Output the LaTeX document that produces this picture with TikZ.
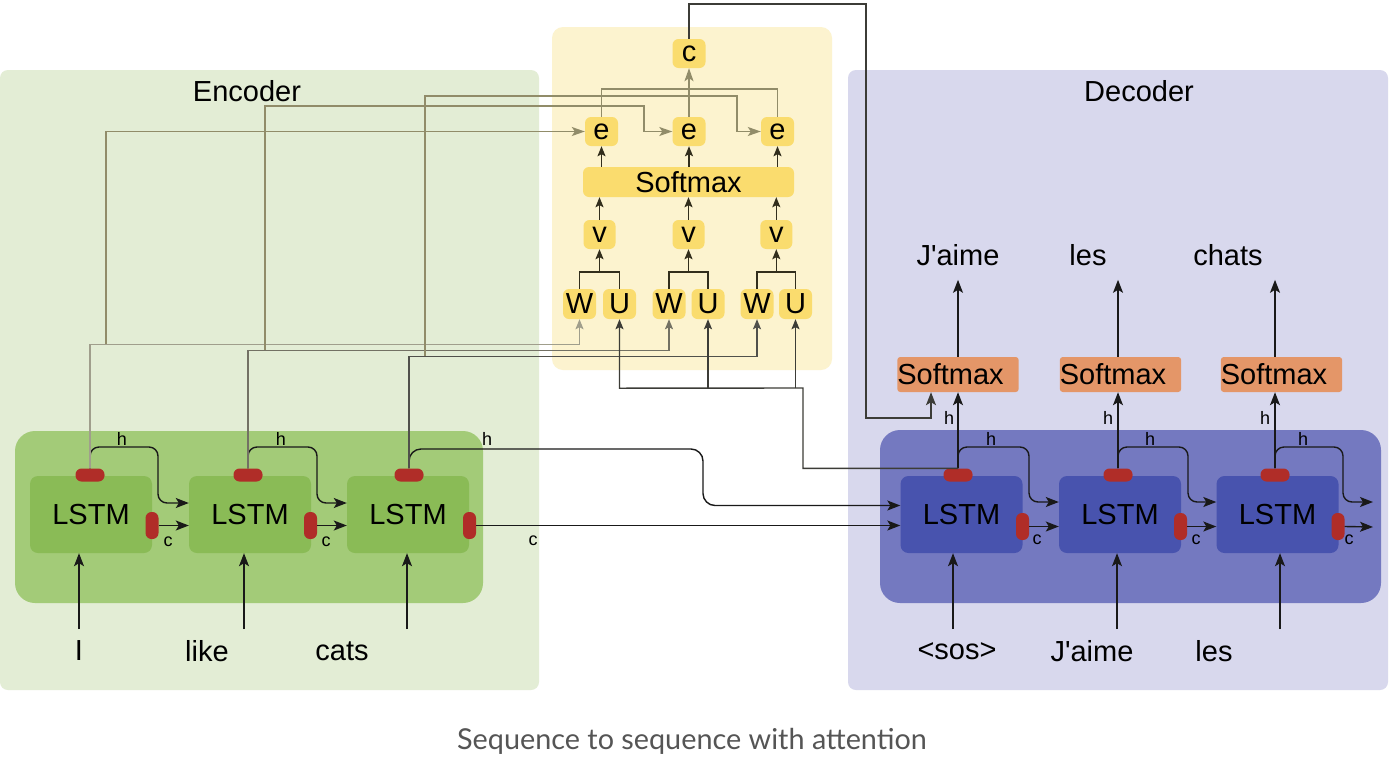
\documentclass[tikz,border=0pt]{standalone}
\usepackage{fontspec}
\setmainfont{Liberation Sans}[Ligatures=TeXOff]
\newfontfamily\capfont{Lato}
\usetikzlibrary{arrows.meta,calc}

\definecolor{encbgc}{RGB}{227,237,213}
\definecolor{encoutc}{RGB}{163,203,120}
\definecolor{enclstmc}{RGB}{138,187,86}
\definecolor{attbgc}{RGB}{252,243,207}
\definecolor{yelc}{RGB}{250,220,110}
\definecolor{decbgc}{RGB}{216,216,237}
\definecolor{decoutc}{RGB}{116,121,192}
\definecolor{declstmc}{RGB}{72,83,174}
\definecolor{orc}{RGB}{228,150,104}
\definecolor{portc}{RGB}{176,45,40}
\definecolor{gonec}{RGB}{160,158,140}
\definecolor{gtwoc}{RGB}{115,113,100}
\definecolor{gthreec}{RGB}{80,80,75}
\definecolor{olivec}{RGB}{145,140,105}
\definecolor{attarrc}{RGB}{50,46,28}
\definecolor{capc}{RGB}{85,85,85}
\definecolor{linec}{RGB}{25,25,25}
\definecolor{dkc}{RGB}{60,60,55}

\begin{document}
\begin{tikzpicture}[x=1pt,y=-1pt,
  panel/.style={rectangle,inner sep=0pt,draw=none},
  lstmbox/.style={rectangle,rounded corners=8pt,minimum width=122pt,minimum height=77pt,inner sep=0pt,font=\fontsize{29}{32}\selectfont},
  hport/.style={rectangle,rounded corners=6pt,fill=portc,minimum width=29pt,minimum height=13pt,inner sep=0pt},
  cport/.style={rectangle,rounded corners=6pt,fill=portc,minimum width=13pt,minimum height=27pt,inner sep=0pt},
  ybox/.style={rectangle,rounded corners=6pt,fill=yelc,minimum width=33pt,minimum height=29pt,inner sep=0pt,font=\fontsize{29}{32}\selectfont},
  obox/.style={rectangle,rounded corners=3pt,fill=orc,minimum width=121pt,minimum height=35pt,inner sep=0pt,font=\fontsize{29}{32}\selectfont},
  lbl/.style={inner sep=0pt,font=\fontsize{29}{32}\selectfont},
  smalllbl/.style={inner sep=0pt,font=\fontsize{18}{20}\selectfont},
  conn/.style={draw=linec,line width=1.4pt,-{Stealth[length=13pt,width=10pt,inset=3pt]}},
  sconn/.style={draw=attarrc,line width=1.4pt,-{Stealth[length=10pt,width=8pt,inset=2pt]}},
  oconn/.style={draw=olivec,line width=1.4pt,-{Stealth[length=13pt,width=9pt,inset=3pt]}},
  oline/.style={draw=olivec,line width=1.4pt},
  gline/.style={line width=1.4pt},
  gtip/.style={-{Stealth[length=10pt,width=8pt,inset=2pt]}}
]
\useasboundingbox (0,0) rectangle (1394,774);
\fill[white] (0,0) rectangle (1394,774);

% panels
\node[panel,fill=encbgc,rounded corners=8pt,minimum width=539pt,minimum height=620pt] (encbg) at (269.5,380) {};
\node[panel,fill=attbgc,rounded corners=11pt,minimum width=280pt,minimum height=343pt] (attbg) at (692,198.5) {};
\node[panel,fill=decbgc,rounded corners=8pt,minimum width=540pt,minimum height=620pt] (decbg) at (1118,380) {};
\node[panel,fill=encoutc,rounded corners=20pt,minimum width=468pt,minimum height=172pt] (encout) at (249,517) {};
\node[panel,fill=decoutc,rounded corners=20pt,minimum width=501pt,minimum height=173pt] (decout) at (1130.5,516.5) {};

\node[lbl] (enctitle) at (247,91) {Encoder};
\node[lbl] (dectitle) at (1139,91) {Decoder};

% encoder LSTMs
\node[lstmbox,fill=enclstmc] (E1) at (91,514.5) {LSTM};
\node[lstmbox,fill=enclstmc] (E2) at (250,514.5) {LSTM};
\node[lstmbox,fill=enclstmc] (E3) at (408,514.5) {LSTM};
\node[hport] (eh1) at (90,475) {};
\node[hport] (eh2) at (248,475) {};
\node[hport] (eh3) at (409,475) {};
\node[cport] (ec1) at (152,525.5) {};
\node[cport] (ec2) at (310.5,525.5) {};
\node[cport] (ec3) at (469.5,525.5) {};

% decoder LSTMs
\node[lstmbox,fill=declstmc] (D1) at (961.5,514.5) {LSTM};
\node[lstmbox,fill=declstmc] (D2) at (1120,514.5) {LSTM};
\node[lstmbox,fill=declstmc] (D3) at (1277.5,514.5) {LSTM};
\node[hport] (dh1) at (958,475) {};
\node[hport] (dh2) at (1118,475) {};
\node[hport] (dh3) at (1275,475) {};
\node[cport] (dc1) at (1022.5,526.5) {};
\node[cport] (dc2) at (1180.5,526.5) {};
\node[cport] (dc3) at (1338,526.5) {};

% decoder softmax
\node[obox] (s1) at (958,374.5) {Softmax\hspace{15pt}\mbox{}};
\node[obox] (s2) at (1120.5,374.5) {Softmax\hspace{15pt}\mbox{}};
\node[obox] (s3) at (1281.5,374.5) {Softmax\hspace{15pt}\mbox{}};

% attention boxes
\node[ybox] (cc) at (689,53.5) {c};
\node[ybox] (e1) at (601.5,131.5) {e};
\node[ybox] (e2) at (689,131.5) {e};
\node[ybox] (e3) at (777.5,131.5) {e};
\node[ybox,minimum width=211pt,minimum height=30pt] (asm) at (688.5,182) {Softmax};
\node[ybox,minimum width=32pt] (v1) at (599.5,234.5) {v};
\node[ybox,minimum width=32pt] (v2) at (688.5,234.5) {v};
\node[ybox,minimum width=32pt] (v3) at (776.3,234.5) {v};
\node[ybox,minimum height=30pt] (W1) at (579.5,304) {W};
\node[ybox,minimum height=30pt] (U1) at (619.5,304) {U};
\node[ybox,minimum height=30pt] (W2) at (669,304) {W};
\node[ybox,minimum height=30pt] (U2) at (708,304) {U};
\node[ybox,minimum height=30pt] (W3) at (757,304) {W};
\node[ybox,minimum height=30pt] (U3) at (795.5,304) {U};

% word labels
\node[lbl] (wI) at (79,651) {I};
\node[lbl] (wlike) at (207,651) {like};
\node[lbl] (wcats) at (342,651) {cats};
\node[lbl] (wsos) at (957,651) {<sos>};
\node[lbl] (wjaimein) at (1092,651) {J'aime};
\node[lbl] (wlesin) at (1214,651) {les};
\node[lbl] (wjaime) at (958,255) {J'aime};
\node[lbl] (wles) at (1088,255) {les};
\node[lbl] (wchats) at (1228,255) {chats};

% small labels
\node[smalllbl] (lh1) at (122,439) {h};
\node[smalllbl] (lh2) at (281,439) {h};
\node[smalllbl] (lh3) at (487,439) {h};
\node[smalllbl] (lc1) at (168,542) {c};
\node[smalllbl] (lc2) at (326,542) {c};
\node[smalllbl] (lc3) at (533,541) {c};
\node[smalllbl] (ldh1) at (991,439) {h};
\node[smalllbl] (ldh2) at (1150,439) {h};
\node[smalllbl] (ldh3) at (1303,439) {h};
\node[smalllbl] (lup1) at (949,418) {h};
\node[smalllbl] (lup2) at (1108,418) {h};
\node[smalllbl] (lup3) at (1265,418) {h};
\node[smalllbl] (ldc1) at (1037,540) {c};
\node[smalllbl] (ldc2) at (1196,540) {c};
\node[smalllbl] (ldc3) at (1349,540) {c};

% caption
\node[inner sep=0pt,text=capc,font=\capfont\fontsize{28.8}{32}\selectfont] (caption) at (692,741) {Sequence to sequence with attention};

% coordinates
\coordinate (in1) at (79,629);
\coordinate (in2) at (244,629);
\coordinate (in3) at (407,629);
\coordinate (in4) at (953,629);
\coordinate (in5) at (1117,629);
\coordinate (in6) at (1280,629);
\coordinate (b1) at (106,344);
\coordinate (b2) at (265,350);
\coordinate (b3) at (425,356);
\coordinate (dhout) at (1373,502);
\coordinate (dcout) at (1373,527);

% ---------- connectors ----------
% inputs
\foreach \i/\n in {in1/E1,in2/E2,in3/E3,in4/D1,in5/D2,in6/D3}
  \draw[conn] (\i) -- (\i |- \n.south);

% encoder recurrences
\draw[conn,rounded corners=9pt] (eh1.north) |- (158,447) |- ([yshift=11.5pt]E2.west);
\draw[conn,rounded corners=9pt] (eh2.north) |- (317,447) |- ([yshift=11.5pt]E3.west);
\draw[conn] (ec1.east) -- (ec1.east -| E2.west);
\draw[conn] (ec2.east) -- (ec2.east -| E3.west);
% encoder -> decoder
\draw[conn,rounded corners=12pt] (eh3.north) |- (703,449) |- ([yshift=9pt]D1.west);
\draw[conn] (ec3.east) -- (ec3.east -| D1.west);

% decoder recurrences
\draw[conn,rounded corners=9pt] (dh1.north) |- (1029,447) |- ([yshift=12.5pt]D2.west);
\draw[conn,rounded corners=9pt] (dh2.north) |- (1188,447) |- ([yshift=12.5pt]D3.west);
\draw[conn,rounded corners=9pt] (dh3.north) |- (1343,447) |- (dhout);
\draw[conn] (dc1.east) -- (dc1.east -| D2.west);
\draw[conn] (dc2.east) -- (dc2.east -| D3.west);
\draw[conn] (dc3.east) -- (dcout);

% decoder to softmax and outputs
\draw[conn] (dh1.north) -- (dh1.north |- s1.south);
\draw[conn] (dh2.north) -- (dh2.north |- s2.south);
\draw[conn] (dh3.north) -- (dh3.north |- s3.south);
\draw[conn] (dh1.north |- s1.north) -- ++(0,-77);
\draw[conn] (dh2.north |- s2.north) -- ++(0,-77);
\draw[conn] (dh3.north |- s3.north) -- ++(0,-77);

% encoder states into attention
\draw[gline,draw=gonec,gtip] (eh1.north) |- ([yshift=-25pt]W1.south) -- (W1.south);
\draw[gline,draw=gtwoc,gtip] (eh2.north) |- ([yshift=-31pt]W2.south) -- (W2.south);
\draw[gline,draw=gthreec,gtip] (eh3.north) |- ([yshift=-37pt]W3.south) -- (W3.south);
\draw[oconn] (b1) |- (e1.west);
\draw[oconn] (b2) |- (644,106) |- (e2.west);
\draw[oconn] (b3) |- (737,96) |- (e3.west);

% decoder state into U
\draw[gline,draw=dkc,gtip] (dh1.north) -| (803,388) -- ([yshift=-69pt]U1.south) -- (U1.south);
\draw[gline,draw=dkc,gtip] ([yshift=-69pt]U2.south) -- (U2.south);
\draw[gline,draw=dkc,gtip] ([yshift=-69pt]U3.south) -- (U3.south);

% attention internals
\draw[gline,draw=attarrc] (W1.north) -- ++(0,-17) -| (U1.north);
\draw[gline,draw=attarrc] (W2.north) -- ++(0,-17) -| (U2.north);
\draw[gline,draw=attarrc] (W3.north) -- ++(0,-17) -| (U3.north);
\draw[sconn] ([yshift=17pt]v1.south |- W1.north) -- (v1.south);
\draw[sconn] ([yshift=17pt]v2.south |- W2.north) -- (v2.south);
\draw[sconn] ([yshift=17pt]v3.south |- W3.north) -- (v3.south);
\draw[sconn] (v1.north) -- (v1.north |- asm.south);
\draw[sconn] (v2.north) -- (v2.north |- asm.south);
\draw[sconn] (v3.north) -- (v3.north |- asm.south);
\draw[sconn] (e1.south |- asm.north) -- (e1.south);
\draw[sconn] (e2.south |- asm.north) -- (e2.south);
\draw[sconn] (e3.south |- asm.north) -- (e3.south);
\draw[oline] (e1.north) -- ++(0,-28) -| (e3.north);
\draw[oconn] (e2.north) -- (cc.south);

% context to decoder softmax
\draw[gline,draw=dkc,-{Stealth[length=13pt,width=10pt,inset=3pt]}] (cc.north) |- (866,4) -- (866,418) -| ([xshift=-27pt]s1.south);
\end{tikzpicture}
\end{document}
